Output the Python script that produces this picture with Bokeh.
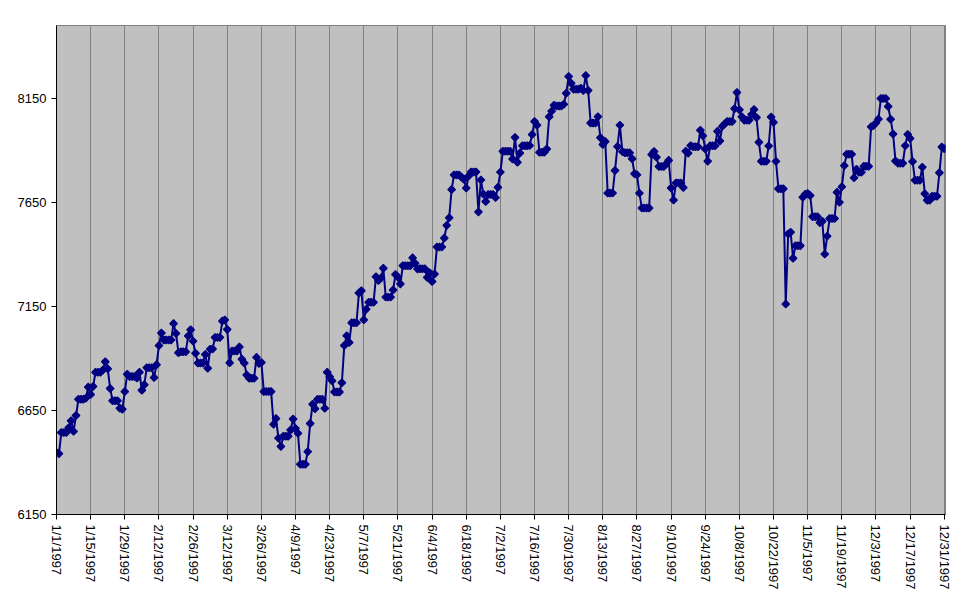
import math
import numpy as np
import pandas as pd
from bokeh.plotting import figure
from bokeh.models import ColumnDataSource, FixedTicker, Range1d
from bokeh.embed import file_html
from bokeh.resources import INLINE

# Daily values (non-trading days carry the previous value), 1/1/1997 .. 12/31/1997
jan = [6448.27, 6442.49, 6544.09, 6544.09, 6544.09, 6567.18, 6600.66, 6549.48, 6625.67, 6703.79,
       6703.79, 6703.79, 6709.18, 6762.29, 6726.88, 6765.37, 6833.10, 6833.10, 6833.10, 6843.87,
       6883.90, 6850.03, 6755.75, 6696.48, 6696.48, 6696.48, 6660.69, 6656.08, 6740.74, 6823.86,
       6813.09]
feb = [6813.09, 6813.09, 6806.16, 6833.48, 6746.90, 6773.35, 6855.80, 6855.80, 6855.80, 6808.00,
       6869.52, 6961.63, 7022.44, 6988.96, 6988.96, 6988.96, 6988.96, 7067.46, 7020.13, 6927.38,
       6931.62, 6931.62, 6931.62, 7008.20, 7037.83, 6983.18, 6925.07, 6877.74]
mar = [6877.74, 6877.74, 6918.92, 6852.72, 6944.70, 6945.85, 7000.89, 7000.89, 7000.89, 7079.39,
       7085.16, 7039.37, 6878.89, 6935.46, 6935.46, 6935.46, 6955.48, 6896.56, 6877.68, 6820.28,
       6804.79, 6804.79, 6804.79, 6905.25, 6876.17, 6880.70, 6740.59, 6740.59, 6740.59, 6740.59,
       6583.48]
apr = [6611.05, 6517.01, 6477.35, 6526.07, 6526.07, 6526.07, 6555.91, 6609.16, 6563.84, 6540.05,
       6391.69, 6391.69, 6391.69, 6451.90, 6587.16, 6679.87, 6658.60, 6703.55, 6703.55, 6703.55,
       6660.21, 6833.59, 6812.72, 6792.25, 6738.87, 6738.87, 6738.87, 6783.02, 6962.03, 7008.99]
may = [6976.48, 7071.20, 7071.20, 7071.20, 7214.49, 7225.32, 7085.65, 7136.62, 7169.53, 7169.53,
       7169.53, 7292.75, 7274.21, 7286.16, 7333.55, 7194.67, 7194.67, 7194.67, 7228.88, 7303.46,
       7290.69, 7258.13, 7345.91, 7345.91, 7345.91, 7345.91, 7383.41, 7357.23, 7330.18, 7331.04,
       7331.04]
jun = [7331.04, 7289.40, 7312.15, 7269.66, 7305.29, 7435.78, 7435.78, 7435.78, 7478.50, 7539.27,
       7575.83, 7711.47, 7782.04, 7782.04, 7782.04, 7772.09, 7760.78, 7718.71, 7777.06, 7796.51,
       7796.51, 7796.51, 7604.26, 7758.06, 7689.98, 7654.25, 7687.72, 7687.72, 7687.72, 7672.79]
jul = [7722.33, 7795.38, 7895.81, 7895.81, 7895.81, 7895.81, 7858.49, 7962.31, 7842.43, 7886.76,
       7921.82, 7921.82, 7921.82, 7922.98, 7975.71, 8038.88, 8020.77, 7890.46, 7890.46, 7890.46,
       7906.72, 8061.65, 8088.36, 8116.93, 8113.44, 8113.44, 8113.44, 8121.11, 8174.53, 8254.89,
       8222.61]
aug = [8194.04, 8194.04, 8194.04, 8198.45, 8187.54, 8259.31, 8188.00, 8031.22, 8031.22, 8031.22,
       8062.11, 7960.84, 7928.32, 7942.03, 7694.66, 7694.66, 7694.66, 7803.36, 7918.10, 8021.23,
       7893.95, 7887.91, 7887.91, 7887.91, 7859.57, 7787.33, 7782.22, 7694.43, 7622.42, 7622.42,
       7622.42]
sep = [7622.42, 7879.78, 7894.64, 7867.24, 7822.41, 7822.41, 7822.41, 7835.18, 7851.91, 7719.28,
       7660.98, 7742.97, 7742.97, 7742.97, 7721.14, 7895.92, 7886.44, 7922.72, 7917.27, 7917.27,
       7917.27, 7996.83, 7969.73, 7906.71, 7848.01, 7922.18, 7922.18, 7922.18, 7991.43, 7945.26]
oct_ = [8015.50, 8027.53, 8038.58, 8038.58, 8038.58, 8100.22, 8178.31, 8095.06, 8061.42, 8045.21,
        8045.21, 8045.21, 8072.39, 8096.29, 8057.98, 7938.88, 7847.77, 7847.77, 7847.77, 7921.44,
        8060.44, 8034.65, 7847.03, 7715.41, 7715.41, 7715.41, 7161.15, 7498.32, 7506.67, 7381.67,
        7442.08]
nov = [7442.08, 7442.08, 7674.39, 7689.13, 7692.57, 7683.24, 7581.32, 7581.32, 7581.32, 7552.59,
       7558.73, 7401.32, 7487.76, 7572.48, 7572.48, 7572.48, 7698.22, 7650.82, 7724.74, 7826.61,
       7881.07, 7881.07, 7881.07, 7767.92, 7808.95, 7794.78, 7794.78, 7823.13, 7823.13, 7823.13]
dec = [8013.11, 8018.83, 8032.01, 8050.16, 8149.13, 8149.13, 8149.13, 8110.84, 8049.66, 7978.79,
       7848.99, 7838.30, 7838.30, 7838.30, 7922.59, 7976.55, 7957.41, 7846.50, 7756.29, 7756.29,
       7756.29, 7819.31, 7691.77, 7660.13, 7660.13, 7679.31, 7679.31, 7679.31, 7792.41, 7915.97,
       7908.25]

y_ticks = [6150, 6650, 7150, 7650, 8150]
x_tick_labels = ["1/1/1997", "1/15/1997", "1/29/1997", "2/12/1997", "2/26/1997", "3/12/1997",
                 "3/26/1997", "4/9/1997", "4/23/1997", "5/7/1997", "5/21/1997", "6/4/1997",
                 "6/18/1997", "7/2/1997", "7/16/1997", "7/30/1997", "8/13/1997", "8/27/1997",
                 "9/10/1997", "9/24/1997", "10/8/1997", "10/22/1997", "11/5/1997", "11/19/1997",
                 "12/3/1997", "12/17/1997", "12/31/1997"]

values = jan + feb + mar + apr + may + jun + jul + aug + sep + oct_ + nov + dec
dates = pd.date_range("1997-01-01", "1997-12-31", freq="D")
date_labels = [f"{d.month}/{d.day}/{d.year}" for d in dates]
xs = np.arange(len(dates))

src = ColumnDataSource(dict(x=xs, y=values, d=date_labels))

p = figure(width=963, height=598,
           x_range=Range1d(0, 364.5), y_range=Range1d(6150, 8500),
           output_backend="svg", toolbar_location=None,
           min_border_left=56, min_border_right=18, min_border_top=25, min_border_bottom=84,
           background_fill_color="#C0C0C0", border_fill_color="white")

p.outline_line_color = "#808080"
p.outline_line_width = 1

tick_pos = [date_labels.index(t) for t in x_tick_labels]
p.xaxis.ticker = FixedTicker(ticks=tick_pos)
p.xaxis.major_label_overrides = {int(pos): lbl for pos, lbl in zip(tick_pos, x_tick_labels)}
p.xaxis.major_label_orientation = -math.pi / 2
p.yaxis.ticker = FixedTicker(ticks=y_ticks)

for ax in (p.xaxis[0], p.yaxis[0]):
    ax.axis_line_color = "black"
    ax.axis_line_width = 1
    ax.major_tick_line_color = "black"
    ax.major_tick_out = 5
    ax.major_tick_in = 0
    ax.minor_tick_line_color = None
    ax.major_label_text_font = "Liberation Sans"
    ax.major_label_text_font_size = "13px"
    ax.major_label_text_color = "black"
    ax.major_label_standoff = 5

p.xgrid.grid_line_color = "#808080"
p.xgrid.grid_line_width = 1
p.ygrid.grid_line_color = None

p.line("x", "y", source=src, line_color="#000080", line_width=2)
p.scatter("x", "y", source=src, marker="square", angle=math.pi / 4, size=5.4,
          fill_color="#000080", line_color="#000080", line_width=1.2)

open("out.html", "w").write(file_html(p, INLINE))
